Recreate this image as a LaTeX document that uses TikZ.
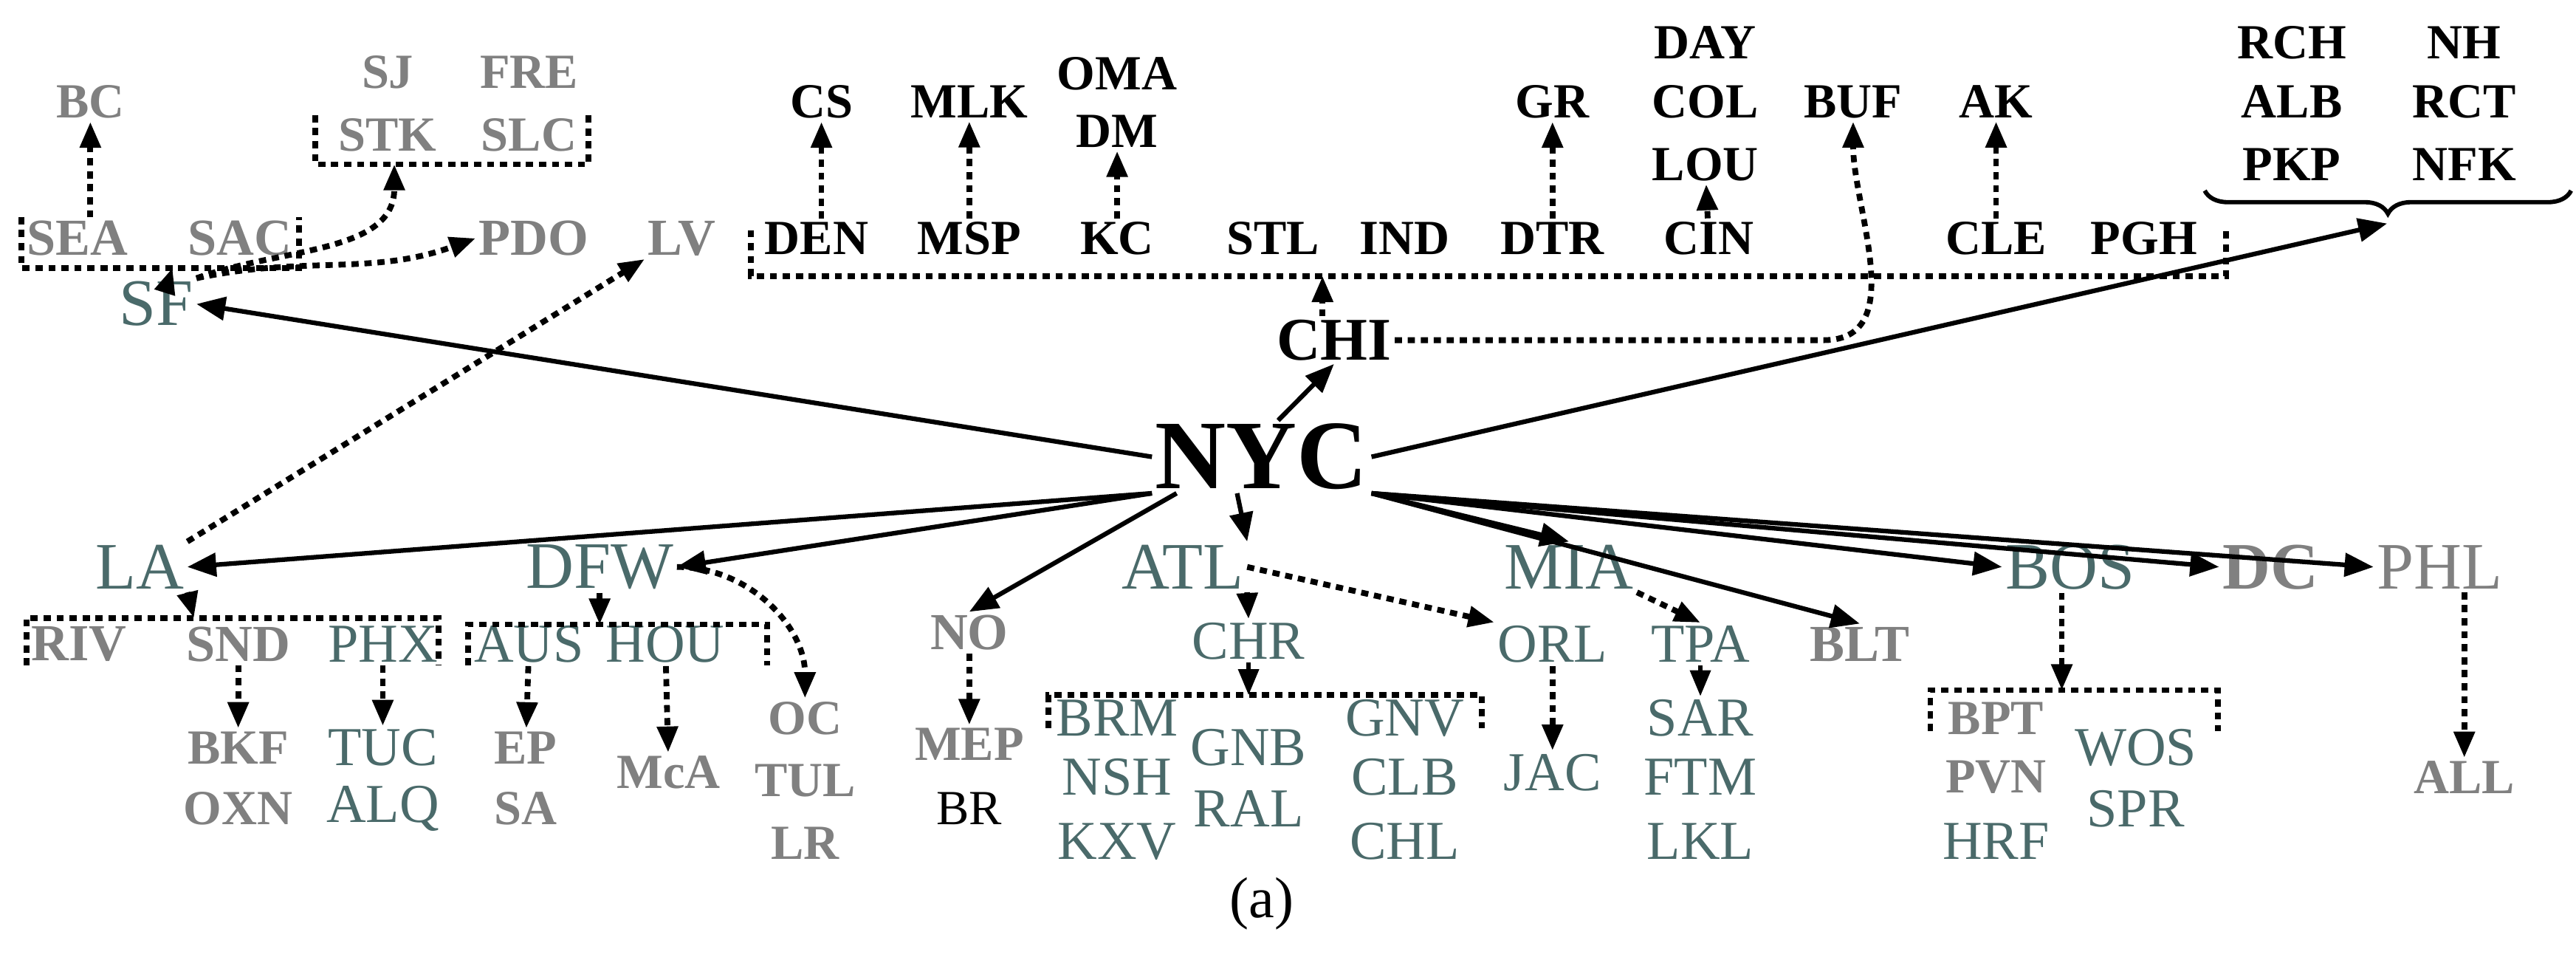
\documentclass[tikz,border=0pt]{standalone}
\usepackage{fontspec}
\setmainfont{Liberation Serif}
\usetikzlibrary{arrows.meta,decorations.pathreplacing}
\definecolor{tealc}{RGB}{74,106,106}
\definecolor{grayc}{RGB}{128,128,128}
\tikzset{
	tl/.style={text=tealc, font=\fontsize{23}{23}\selectfont},
	ts/.style={text=tealc, font=\fontsize{19}{19}\selectfont},
	gl/.style={text=grayc, font=\bfseries\fontsize{18}{18}\selectfont},
	gs/.style={text=grayc, font=\bfseries\fontsize{17}{17}\selectfont},
	bs/.style={font=\bfseries\fontsize{17}{17}\selectfont},
	dot/.style={dash pattern=on 2.5pt off 2pt, line width=2pt},
	tip/.style={-{Triangle[length=9pt,width=7pt]}},
	sol/.style={-{Triangle[length=10pt,width=8pt]}, line width=1.6pt}
}
\begin{document}
\begin{tikzpicture}[x=0.02cm,y=-0.02cm, inner sep=1pt]
	\useasboundingbox (0,0) rectangle (1568,596);
	% west
	\node[gs] (BC) at (55,62) {BC};
	\node[gs] (SJ) at (236,44) {SJ};
	\node[gs] (FRE) at (322,44) {FRE};
	\node[gs] (STK) at (236,82) {STK};
	\node[gs] (SLC) at (322,82) {SLC};
	\node[gl] (SEA) at (47,145) {SEA};
	\node[gl] (SAC) at (146,145) {SAC};
	\node[gl] (PDO) at (325,145) {PDO};
	\node[gl] (LV) at (415,145) {LV};
	\node[tl] (SF) at (95,185) {SF};
	\draw[dot] (192,70) -- (192,100) -- (358,100) -- (358,70);
	\coordinate (stkb) at (240,100);
	\draw[dot] (13,132) -- (13,163) -- (182,163) -- (182,132);
	\coordinate (seab) at (105,163);
	\draw[dot,tip] (SEA.north -| BC) -- (BC);
	\draw[dot,tip] (SF.north) ++(8,0) -- (seab);
	\draw[dot,tip] (SF.north east) to[out=20,in=-90] (stkb);
	\draw[dot,tip] (SF.north east) to[out=12,in=200] (PDO.west);
	% midwest
	\node[bs] (CS) at (500,62) {CS};
	\node[bs] (MLK) at (590,62) {MLK};
	\node[bs] (OMA) at (680,45) {OMA};
	\node[bs] (DM) at (680,80) {DM};
	\node[bs] (GR) at (945,62) {GR};
	\node[bs] (DAY) at (1038,26) {DAY};
	\node[bs] (COL) at (1038,62) {COL};
	\node[bs] (LOU) at (1038,100) {LOU};
	\node[bs] (BUF) at (1128,62) {BUF};
	\node[bs] (AK) at (1215,62) {AK};
	\node[bs] (DEN) at (497,145) {DEN};
	\node[bs] (MSP) at (590,145) {MSP};
	\node[bs] (KC) at (680,145) {KC};
	\node[bs] (STL) at (775,145) {STL};
	\node[bs] (IND) at (855,145) {IND};
	\node[bs] (DTR) at (945,145) {DTR};
	\node[bs] (CIN) at (1040,145) {CIN};
	\node[bs] (CLE) at (1215,145) {CLE};
	\node[bs] (PGH) at (1305,145) {PGH};
	\node[font=\bfseries\fontsize{21}{21}\selectfont] (CHI) at (812,207) {CHI};
	\draw[dot] (457,140) -- (457,168) -- (1355,168) -- (1355,140);
	\coordinate (chib) at (805,168);
	\draw[dot,tip] (CHI.north) ++(-7,0) -- (chib);
	\draw[dot,tip] (DEN.north -| CS) -- (CS);
	\draw[dot,tip] (MSP) -- (MLK);
	\draw[dot,tip] (KC) -- (DM);
	\draw[dot,tip] (DTR) -- (GR);
	\draw[dot,tip] (CIN) -- (LOU);
	\draw[dot,tip] (CLE) -- (AK);
	\draw[dot,tip] (CHI.east) -- (1110,207) to[out=0,in=-90] (BUF.south);
	% northeast
	\node[bs] (RCH) at (1395,26) {RCH};
	\node[bs] (ALB) at (1395,62) {ALB};
	\node[bs] (PKP) at (1395,100) {PKP};
	\node[bs] (NH) at (1500,26) {NH};
	\node[bs] (RCT) at (1500,62) {RCT};
	\node[bs] (NFK) at (1500,100) {NFK};
	\draw[line width=1.5pt, decorate,
		decoration={brace, mirror, amplitude=8pt}] (1342,116) -- (1565,116);
	\coordinate (neb) at (1453,136);
	% hub
	\node[font=\bfseries\fontsize{34}{34}\selectfont] (NYC) at (768,278) {NYC};
	\node[tl] (LA) at (85,345) {LA};
	\node[tl] (DFW) at (365,345) {DFW};
	\node[tl] (ATL) at (720,345) {ATL};
	\node[tl] (MIA) at (955,345) {MIA};
	\node[tl] (BOS) at (1260,345) {BOS};
	\node[gl, font=\bfseries\fontsize{23}{23}\selectfont] (DC) at (1382,345) {DC};
	\node[tl, text=grayc] (PHL) at (1485,345) {PHL};
	\node[gl] (NO) at (590,385) {NO};
	\node[gl] (BLT) at (1132,392) {BLT};
	\draw[sol] (NYC.west) -- (SF.east);
	\draw[sol] (NYC.north) ++(10,0) -- (CHI.south);
	\draw[sol] (NYC.east) -- (neb);
	\draw[sol] (NYC.south west) -- (LA.east);
	\draw[sol] (NYC.south west) -- (DFW.east);
	\draw[sol] (NYC.south west) ++(15,0) -- (NO.north);
	\draw[sol] (NYC.south) ++(-15,0) -- (ATL.north east);
	\draw[sol] (NYC.south east) -- (MIA.north);
	\draw[sol] (NYC.south east) -- (BLT.north);
	\draw[sol] (NYC.south east) -- (BOS.west);
	\draw[sol] (NYC.south east) -- (DC.west);
	\draw[sol] (NYC.south east) -- (PHL.west);
	\draw[dot,tip] (LA.north east) -- (LV.south west);
	% southwest
	\node[gl] (RIV) at (48,392) {RIV};
	\node[gl] (SND) at (145,392) {SND};
	\node[ts] (PHX) at (233,392) {PHX};
	\node[ts] (AUS) at (322,392) {AUS};
	\node[ts] (HOU) at (405,392) {HOU};
	\draw[dot] (16,405) -- (16,376) -- (267,376) -- (267,405);
	\coordinate (lab) at (118,376);
	\draw[dot] (285,405) -- (285,380) -- (467,380) -- (467,405);
	\coordinate (dfwb) at (365,380);
	\draw[dot,tip] (LA.south east) -- (lab);
	\draw[dot,tip] (DFW.south) -- (dfwb);
	\node[gs] (BKF) at (145,455) {BKF};
	\node[gs] (OXN) at (145,492) {OXN};
	\node[ts] (TUC) at (233,455) {TUC};
	\node[ts] (ALQ) at (233,492) {ALQ};
	\node[gs] (EP) at (320,455) {EP};
	\node[gs] (SA) at (320,492) {SA};
	\node[gs] (McA) at (407,470) {McA};
	\node[gs] (OC) at (490,437) {OC};
	\node[gs] (TUL) at (490,475) {TUL};
	\node[gs] (LR) at (490,513) {LR};
	\draw[dot,tip] (SND) -- (BKF);
	\draw[dot,tip] (PHX) -- (TUC);
	\draw[dot,tip] (AUS) -- (EP);
	\draw[dot,tip] (HOU) -- (McA);
	\draw[dot,tip] (DFW.east) to[out=0,in=90] (OC.north);
	% south
	\node[gs] (MEP) at (590,453) {MEP};
	\node[bs, font=\fontsize{17}{17}\selectfont] (BR) at (590,492) {BR};
	\draw[dot,tip] (NO) -- (MEP);
	\node[ts] (CHR) at (760,390) {CHR};
	\node[ts] (ORL) at (945,392) {ORL};
	\node[ts] (TPA) at (1035,392) {TPA};
	\draw[dot,tip] (ATL.south east) -- (CHR.north);
	\draw[dot,tip] (ATL.east) -- (ORL.north west);
	\draw[dot,tip] (MIA.south east) -- (TPA.north);
	\draw[dot] (638,443) -- (638,423) -- (902,423) -- (902,443);
	\coordinate (chrb) at (760,423);
	\draw[tip, line width=1.5pt] (CHR.south) -- (chrb);
	\node[ts] (BRM) at (680,437) {BRM};
	\node[ts] (NSH) at (680,473) {NSH};
	\node[ts] (KXV) at (680,512) {KXV};
	\node[ts] (GNB) at (760,455) {GNB};
	\node[ts] (RAL) at (760,492) {RAL};
	\node[ts] (GNV) at (855,437) {GNV};
	\node[ts] (CLB) at (855,473) {CLB};
	\node[ts] (CHL) at (855,512) {CHL};
	\node[ts] (JAC) at (945,470) {JAC};
	\draw[dot,tip] (ORL) -- (JAC);
	\node[ts] (SAR) at (1035,437) {SAR};
	\node[ts] (FTM) at (1035,473) {FTM};
	\node[ts] (LKL) at (1035,512) {LKL};
	\draw[tip, line width=1.5pt] (TPA.south) -- (SAR.north);
	% new england
	\draw[dot] (1175,445) -- (1175,420) -- (1350,420) -- (1350,445);
	\coordinate (bosb) at (1255,420);
	\draw[dot,tip] (BOS.south) ++(-5,0) -- (bosb);
	\node[gs] (BPT) at (1215,437) {BPT};
	\node[gs] (PVN) at (1215,473) {PVN};
	\node[ts] (HRF) at (1215,512) {HRF};
	\node[ts] (WOS) at (1300,455) {WOS};
	\node[ts] (SPR) at (1300,492) {SPR};
	\node[gs] (ALL) at (1500,473) {ALL};
	\draw[dot,tip] (PHL.south -| ALL) -- (ALL);
	\node[font=\fontsize{20}{20}\selectfont] (cap) at (768,550) {(a)};
\end{tikzpicture}
\end{document}
